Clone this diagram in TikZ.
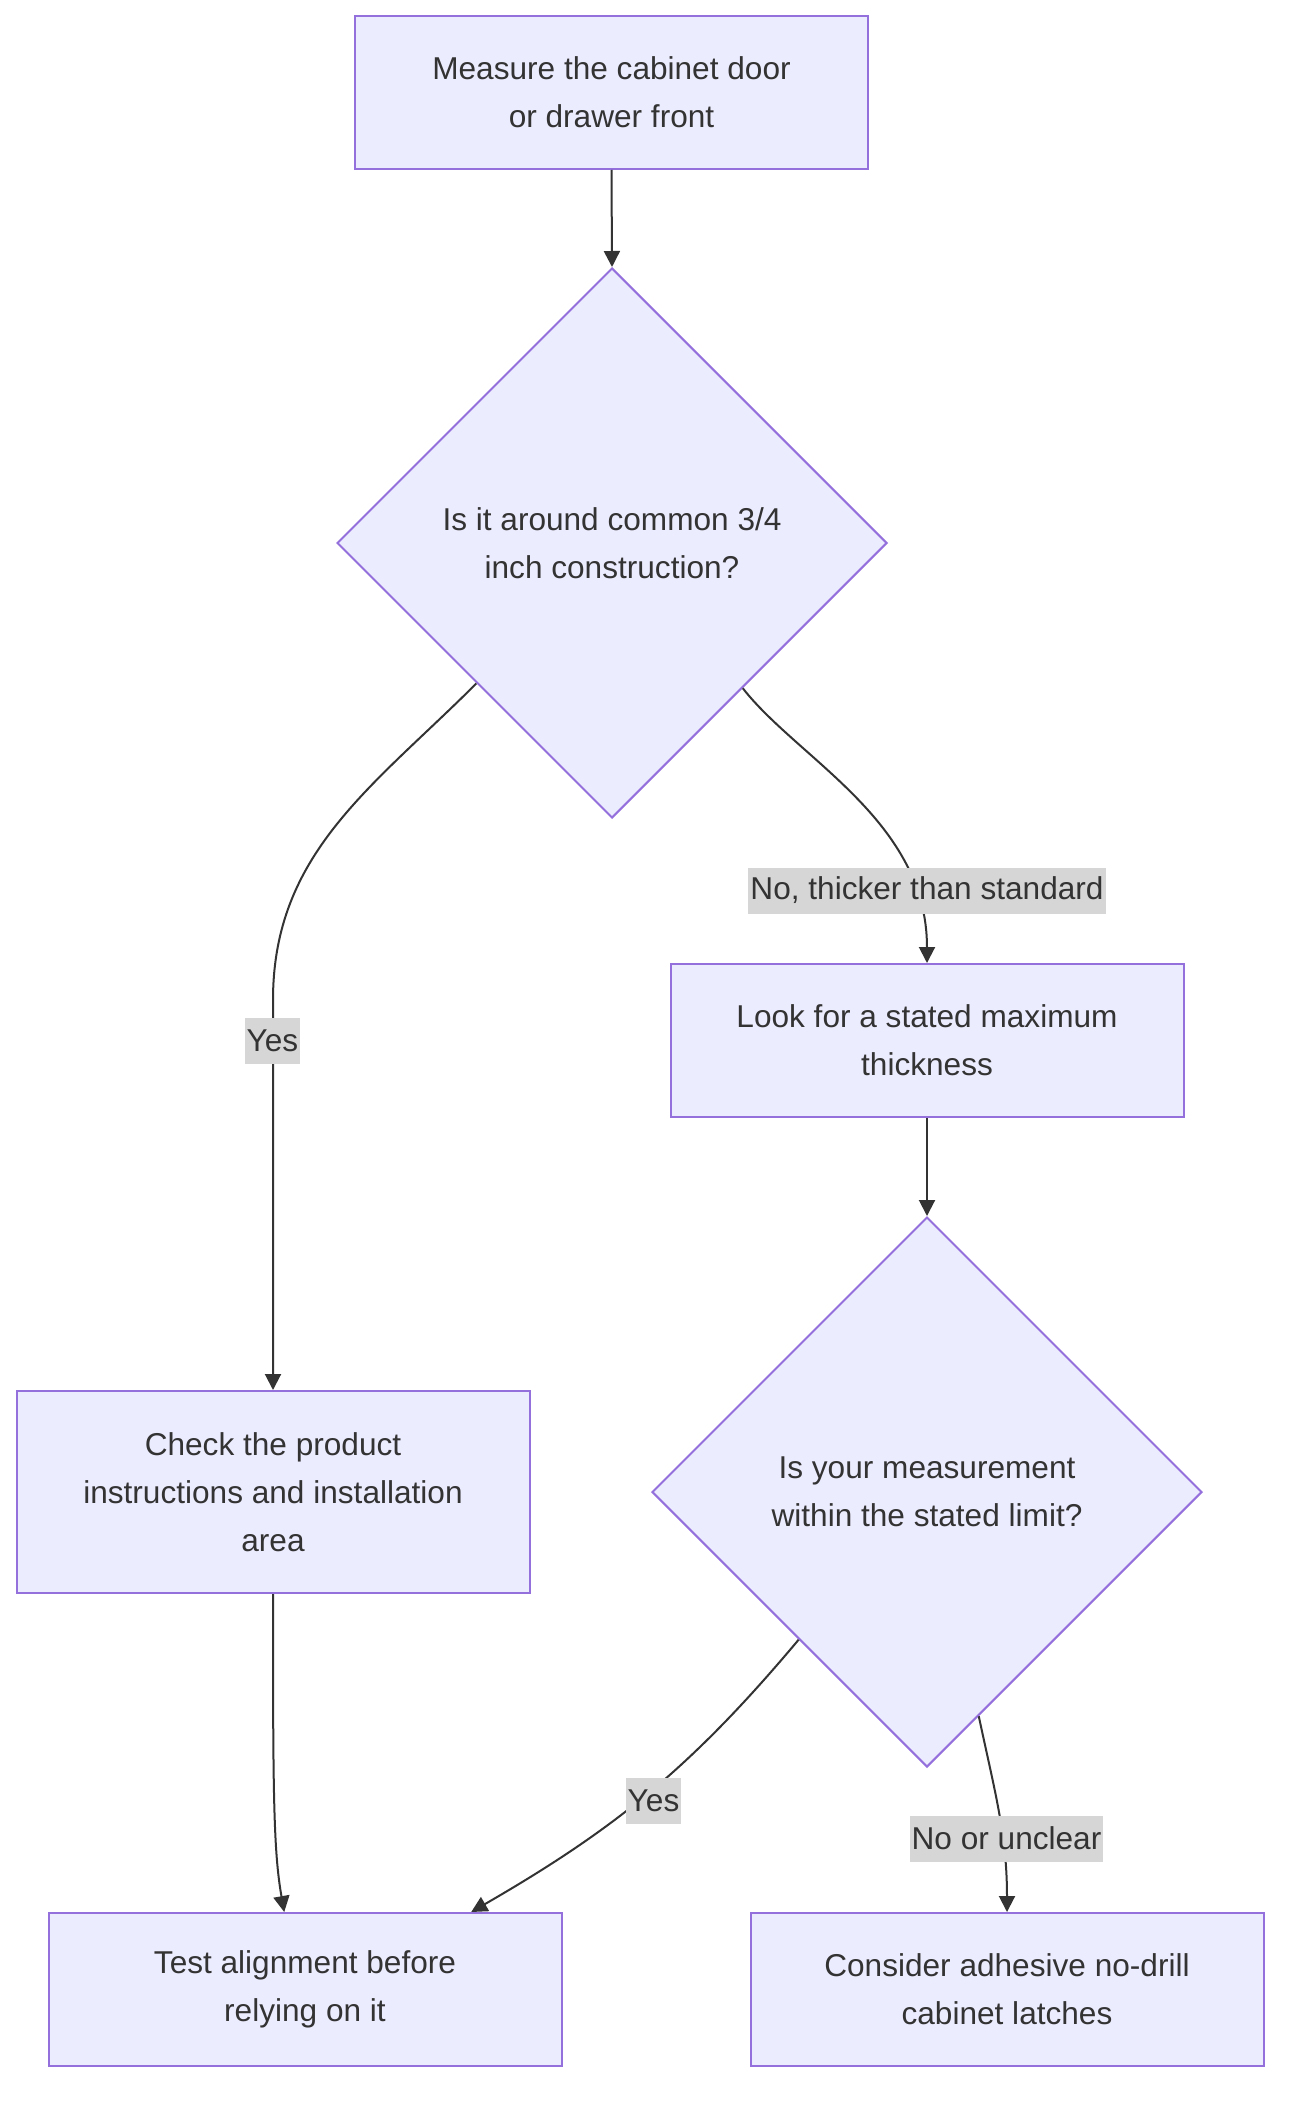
\documentclass[tikz,border=0pt]{standalone}
\usepackage{fontspec}
\setmainfont{Liberation Sans}
\usetikzlibrary{arrows.meta,shapes.geometric}
\definecolor{flowfill}{HTML}{ECECFF}
\definecolor{flowline}{HTML}{9370DB}
\definecolor{flowink}{HTML}{333333}
\definecolor{lblgray}{HTML}{D6D6D6}

\begin{document}
\begin{tikzpicture}[x=0.5pt, y=-0.5pt, every node/.style={font=\fontsize{15.8pt}{24pt}\selectfont, text=flowink}, >={Triangle[length=8pt, width=8pt]},
	stepbox/.style={draw=flowline, fill=flowfill, line width=1pt, minimum width=256.5pt, minimum height=76.5pt, align=center},
	ask/.style={diamond, draw=flowline, fill=flowfill, line width=1pt, minimum width=275pt, minimum height=275pt, inner sep=0pt, align=center},
	link/.style={->, draw=flowink, line width=1pt},
	lbl/.style={fill=lblgray, inner xsep=1pt, inner ysep=0pt, minimum height=23pt}]
	\useasboundingbox (0,0) rectangle (1296,2108);
	\node[stepbox] (measure) at (611.5,92.5) {Measure the cabinet door\\or drawer front};
	\node[ask] (ask1) at (612,543) {Is it around common 3/4\\inch construction?};
	\node[stepbox] (look) at (927,1040.5) {Look for a stated maximum\\thickness};
	\node[ask] (ask2) at (927,1492) {Is your measurement\\within the stated limit?};
	\node[stepbox, minimum height=101pt] (check) at (273,1492) {Check the product\\instructions and installation\\area};
	\node[stepbox] (test) at (305,1989.5) {Test alignment before\\relying on it};
	\node[stepbox] (consider) at (1007,1989.5) {Consider adhesive no-drill\\cabinet latches};
	\coordinate (yesbend) at (273,1000);
	\draw[link] (measure.south) -- (ask1.north);
	\draw[link] (ask1.-134) to[out=-135, in=90] (yesbend) -- (check.north);
	\draw[link] (ask1.-48) to[out=-52, in=90, out looseness=0.7, in looseness=1.1] (look.north);
	\draw[link] (look.south) -- (ask2.north);
	\draw[link] (check.south) to[out=-90, in=100, out looseness=1.6, in looseness=0.5] (test.105);
	\draw[link] (ask2.-131) to[out=-130, in=30] (test.25);
	\draw[link] (ask2.-77) to[out=-78, in=90] (consider.north);
	\node[lbl] (yesA) at (272.5,1040.5) {Yes};
	\node[lbl] (noA) at (927,890.5) {No, thicker than standard};
	\node[lbl] (yesB) at (653.5,1800.5) {Yes};
	\node[lbl] (noB) at (1006.5,1838.5) {No or unclear};
\end{tikzpicture}
\end{document}
